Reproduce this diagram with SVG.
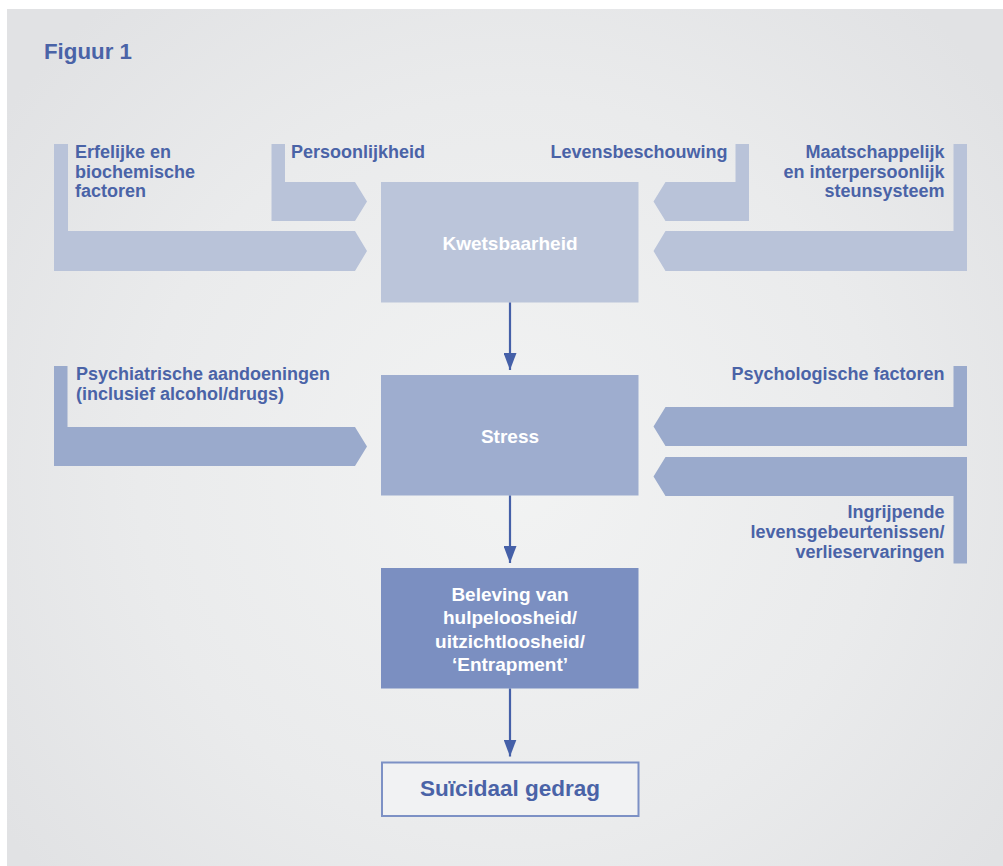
<svg xmlns="http://www.w3.org/2000/svg" width="1003" height="866" viewBox="0 0 1003 866">
  <defs>
    <radialGradient id="bg" cx="510" cy="470" r="620" gradientUnits="userSpaceOnUse">
      <stop offset="0" stop-color="#f2f3f3"/>
      <stop offset="0.6" stop-color="#eaebec"/>
      <stop offset="1" stop-color="#e1e2e4"/>
    </radialGradient>
    <marker id="arr" viewBox="0 0 17 13" refX="17" refY="6.5" markerWidth="17" markerHeight="13" markerUnits="userSpaceOnUse" orient="auto">
      <path d="M0,0 L17,6.5 L0,13 Z" fill="#4560a8"/>
    </marker>
  </defs>
  <style>
    .lbl { font-family: "Liberation Sans", Arial, sans-serif; font-weight: bold; font-size: 18px; fill: #4a63a7; }
    .r { text-anchor: end; }
    .box { font-family: "Liberation Sans", Arial, sans-serif; font-weight: bold; font-size: 19px; fill: #ffffff; text-anchor: middle; }
    .light { fill: #b9c3d9; }
    .mid { fill: #9aaacc; }
    .conn { stroke: #4560a8; stroke-width: 2.2; fill: none; }
  </style>

  <rect x="7" y="9" width="996" height="857" fill="url(#bg)"/>
  <text x="44" y="59" style="font-family: 'Liberation Sans', Arial, sans-serif; font-weight: bold; font-size: 22.3px; fill: #4a63a7;">Figuur 1</text>

  <g id="erfelijk">
    <polygon class="light" points="54,144 68,144 68,231 355,231 367,251 355,271 54,271"/>
    <text class="lbl" x="75" y="158">Erfelijke en</text>
    <text class="lbl" x="75" y="177.5">biochemische</text>
    <text class="lbl" x="75" y="197">factoren</text>
  </g>
  <g id="persoonlijkheid">
    <polygon class="light" points="271.5,144 285,144 285,182 355,182 367,201.5 355,221 271.5,221"/>
    <text class="lbl" x="291" y="158">Persoonlijkheid</text>
  </g>
  <g id="levensbeschouwing">
    <polygon class="light" points="749,144 735.5,144 735.5,182 665.5,182 653.5,201.5 665.5,221 749,221"/>
    <text class="lbl r" x="727.5" y="158">Levensbeschouwing</text>
  </g>
  <g id="maatschappelijk">
    <polygon class="light" points="967,144 953.5,144 953.5,231 665.5,231 653.5,251 665.5,271 967,271"/>
    <text class="lbl r" x="944.5" y="158">Maatschappelijk</text>
    <text class="lbl r" x="944.5" y="177.5">en interpersoonlijk</text>
    <text class="lbl r" x="944.5" y="197">steunsysteem</text>
  </g>

  <g id="psychiatrisch">
    <polygon class="mid" points="54,366 67.5,366 67.5,427 355,427 367,446.5 355,466 54,466"/>
    <text class="lbl" x="76" y="380">Psychiatrische aandoeningen</text>
    <text class="lbl" x="76" y="399.5">(inclusief alcohol/drugs)</text>
  </g>
  <g id="psychologisch">
    <polygon class="mid" points="967,366 953.5,366 953.5,407 665.5,407 653.5,426.5 665.5,446 967,446"/>
    <text class="lbl r" x="944.5" y="380">Psychologische factoren</text>
  </g>
  <g id="ingrijpend">
    <polygon class="mid" points="967,563.5 953.5,563.5 953.5,496 665.5,496 653.5,476.5 665.5,457 967,457"/>
    <text class="lbl r" x="944.5" y="518">Ingrijpende</text>
    <text class="lbl r" x="944.5" y="538">levensgebeurtenissen/</text>
    <text class="lbl r" x="944.5" y="557.5">verlieservaringen</text>
  </g>

  <g id="kwetsbaarheid">
    <rect x="381" y="182" width="257.5" height="120.5" fill="#bbc5da"/>
    <text class="box" x="510" y="250">Kwetsbaarheid</text>
  </g>
  <g id="stress">
    <rect x="381" y="375" width="257.5" height="120.5" fill="#9eadcf"/>
    <text class="box" x="510" y="443">Stress</text>
  </g>
  <g id="beleving">
    <rect x="381" y="568" width="257.5" height="120.5" fill="#7b8fc1"/>
    <text class="box" x="510" y="601">Beleving van</text>
    <text class="box" x="510" y="624">hulpeloosheid/</text>
    <text class="box" x="510" y="647.5">uitzichtloosheid/</text>
    <text class="box" x="510" y="670.5">‘Entrapment’</text>
  </g>
  <g id="suicidaal">
    <rect x="382" y="762.5" width="256.5" height="53.5" fill="#f1f2f3" stroke="#7d91c5" stroke-width="2"/>
    <text x="510" y="795.5" text-anchor="middle" style="font-family: 'Liberation Sans', Arial, sans-serif; font-weight: bold; font-size: 22.5px; fill: #4a63a7;">Suïcidaal gedrag</text>
  </g>

  <g id="connectors">
    <line class="conn" x1="510" y1="302.5" x2="510" y2="370" marker-end="url(#arr)"/>
    <line class="conn" x1="510" y1="495.5" x2="510" y2="563" marker-end="url(#arr)"/>
    <line class="conn" x1="510" y1="688.5" x2="510" y2="756.5" marker-end="url(#arr)"/>
  </g>
</svg>
